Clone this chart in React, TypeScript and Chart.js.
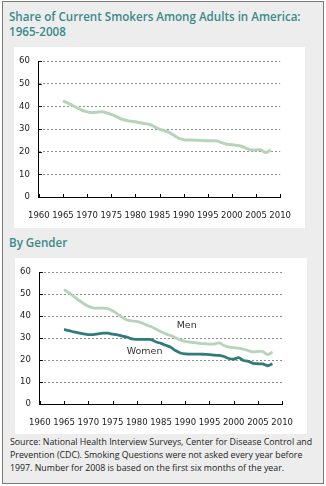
import React, { useEffect, useRef } from 'react';
import { Chart, registerables } from 'chart.js';
Chart.register(...registerables);
Chart.defaults.font.family = 'DejaVu Sans';

const years = [1965, 1966, 1967, 1968, 1969, 1970, 1971, 1972, 1973, 1974, 1975, 1976, 1977, 1978, 1979, 1980, 1981, 1982, 1983, 1984, 1985, 1986, 1987, 1988, 1989, 1990, 1991, 1992, 1993, 1994, 1995, 1996, 1997, 1998, 1999, 2000, 2001, 2002, 2003, 2004, 2005, 2006, 2007, 2008];

const allAdults = [42.4, 41.5, 40.4, 39.3, 38.3, 37.6, 37.3, 37.4, 37.6, 37.2, 36.5, 35.6, 34.5, 33.9, 33.5, 33.2, 32.8, 32.4, 32.0, 31.0, 30.0, 29.3, 28.5, 27.2, 25.9, 25.3, 25.2, 25.2, 25.1, 24.9, 24.8, 24.8, 24.7, 23.9, 23.3, 23.1, 22.8, 22.4, 21.5, 20.8, 20.8, 20.8, 19.6, 20.8];

const men = [52.0, 50.6, 49.0, 47.3, 45.7, 44.4, 43.7, 43.6, 43.6, 43.4, 42.4, 41.0, 39.4, 38.2, 37.8, 37.6, 36.9, 36.0, 35.1, 34.0, 32.9, 31.9, 31.1, 30.1, 29.1, 28.5, 28.1, 27.9, 27.6, 27.4, 27.2, 27.3, 27.8, 26.6, 25.9, 25.6, 25.4, 24.9, 24.3, 23.7, 23.9, 23.8, 22.5, 23.6];

const women = [33.9, 33.4, 32.8, 32.3, 31.9, 31.6, 31.6, 31.9, 32.2, 32.2, 31.8, 31.4, 30.9, 30.4, 29.6, 29.4, 29.4, 29.4, 29.3, 28.2, 27.6, 26.7, 25.8, 24.3, 23.2, 22.8, 22.7, 22.7, 22.7, 22.6, 22.5, 22.2, 22.1, 21.6, 20.7, 20.4, 21.1, 19.8, 19.4, 18.5, 18.3, 18.2, 17.4, 18.3];

const xMin = 1960;
const xMax = 2010;
const yMin = 0;
const yMax = 60;

const LIGHT = '#b6d4ba';
const DARK = '#2f7c7a';
const TEAL_TEXT = '#3a8a88';

type Label = { text: string; x: number; y: number };
const genderLabels: Label[] = [
  { text: 'Men', x: 1990.3, y: 35.8 },
  { text: 'Women', x: 1981.6, y: 23.7 },
];

const innerTicks = {
  id: 'innerTicks',
  beforeDatasetsDraw(chart: any) {
    const { ctx } = chart;
    const x = chart.scales.x;
    const y = chart.scales.y;
    ctx.save();
    ctx.strokeStyle = '#000';
    ctx.lineWidth = 1;
    ctx.beginPath();
    x.ticks.forEach((t: any) => {
      const px = Math.round(x.getPixelForValue(t.value)) + 0.5;
      ctx.moveTo(px, x.top);
      ctx.lineTo(px, x.top - 3);
    });
    y.ticks.forEach((t: any) => {
      const py = Math.round(y.getPixelForValue(t.value)) + 0.5;
      ctx.moveTo(y.right, py);
      ctx.lineTo(y.right + 3, py);
    });
    ctx.stroke();
    ctx.restore();
  },
};

function makeOptions(yWidth: number, xHeight: number, padTop: number, padRight: number, labels: Label[]) {
  return {
    responsive: false,
    maintainAspectRatio: false,
    animation: false,
    devicePixelRatio: 1,
    layout: { padding: { top: padTop, right: padRight, left: 0, bottom: 0 } },
    plugins: {
      legend: { display: false },
      tooltip: { enabled: false },
      labelsPlugin: { labels },
    },
    elements: { point: { radius: 0 } },
    scales: {
      x: {
        type: 'linear',
        min: xMin,
        max: xMax,
        afterFit: (s: any) => { s.height = xHeight; },
        ticks: {
          stepSize: 5,
          padding: 14,
          color: '#222',
          font: { size: 8.5 },
          maxRotation: 0,
          autoSkip: false,
          callback: (v: any) => String(v),
        },
        grid: { display: false, drawTicks: false },
        border: { display: true, color: '#000', width: 1 },
      },
      y: {
        min: yMin,
        max: yMax,
        afterFit: (s: any) => { s.width = yWidth; },
        ticks: {
          stepSize: 10,
          padding: 9,
          color: '#222',
          font: { size: 8.5 },
          callback: (v: any) => String(v),
        },
        grid: {
          drawTicks: false,
          color: (c: any) => (c.tick && c.tick.value === 0 ? 'rgba(0,0,0,0)' : '#8f8f8f'),
          lineWidth: 1,
        },
        border: { display: true, color: '#000', width: 1, dash: [2, 2] },
      },
    },
  } as any;
}

const labelsPlugin = {
  id: 'labelsPlugin',
  afterDatasetsDraw(chart: any, _args: any, opts: any) {
    const labels: Label[] = (opts && opts.labels) || [];
    const { ctx } = chart;
    ctx.save();
    ctx.fillStyle = '#333';
    ctx.font = '9.5px "DejaVu Sans"';
    ctx.textAlign = 'center';
    ctx.textBaseline = 'middle';
    labels.forEach((l) => {
      ctx.fillText(l.text, chart.scales.x.getPixelForValue(l.x), chart.scales.y.getPixelForValue(l.y));
    });
    ctx.restore();
  },
};

function LineChart(props: { width: number; height: number; datasets: any[]; yWidth: number; xHeight: number; padTop: number; padRight: number; labels: Label[] }) {
  const ref = useRef<HTMLCanvasElement>(null);
  useEffect(() => {
    if (!ref.current) return;
    const chart = new Chart(ref.current, {
      type: 'line',
      data: { datasets: props.datasets },
      options: makeOptions(props.yWidth, props.xHeight, props.padTop, props.padRight, props.labels),
      plugins: [innerTicks, labelsPlugin],
    } as any);
    return () => chart.destroy();
  }, []);
  return <canvas ref={ref} width={props.width} height={props.height} style={{ display: 'block', width: props.width, height: props.height }} />;
}

const toPoints = (vals: number[]) => years.map((yr, i) => ({ x: yr, y: vals[i] }));

export default function App() {
  const titleStyle: React.CSSProperties = {
    position: 'absolute',
    left: 9,
    color: TEAL_TEXT,
    fontFamily: '"Open Sans", sans-serif',
    fontWeight: 600,
    fontSize: 11.6,
    lineHeight: '15px',
    whiteSpace: 'nowrap',
  };
  return (
    <div style={{ position: 'absolute', left: 0, top: 0, width: 326, height: 486, background: '#fff' }}>
      <div style={{ position: 'absolute', left: 2, top: 1, width: 320, height: 481, border: '1px solid #7a7a7a', background: '#ededed' }} />
      <div style={{ ...titleStyle, top: 9 }}>
        Share of Current Smokers Among Adults in America:<br />1965-2008
      </div>
      <div style={{ position: 'absolute', left: 14, top: 47, width: 291, height: 181, background: '#fff' }}>
        <LineChart
          width={291}
          height={181}
          yWidth={22}
          xHeight={31}
          padTop={10}
          padRight={12}
          labels={[]}
          datasets={[{ data: toPoints(allAdults), borderColor: LIGHT, borderWidth: 3, tension: 0.3, fill: false }]}
        />
      </div>
      <div style={{ ...titleStyle, top: 235 }}>By Gender</div>
      <div style={{ position: 'absolute', left: 15, top: 258, width: 292, height: 176, background: '#fff' }}>
        <LineChart
          width={292}
          height={176}
          yWidth={21}
          xHeight={30}
          padTop={11}
          padRight={12}
          labels={genderLabels}
          datasets={[
            { data: toPoints(men), borderColor: LIGHT, borderWidth: 2.8, tension: 0.3, fill: false },
            { data: toPoints(women), borderColor: DARK, borderWidth: 2.8, tension: 0.3, fill: false },
          ]}
        />
      </div>
      <div style={{ position: 'absolute', left: 10, top: 436, color: '#222', fontFamily: '"Open Sans", sans-serif', fontSize: 8.8, lineHeight: '13px', whiteSpace: 'nowrap' }}>
        Source: National Health Interview Surveys, Center for Disease Control and<br />
        Prevention (CDC). Smoking Questions were not asked every year before<br />
        1997. Number for 2008 is based on the first six months of the year.
      </div>
    </div>
  );
}
